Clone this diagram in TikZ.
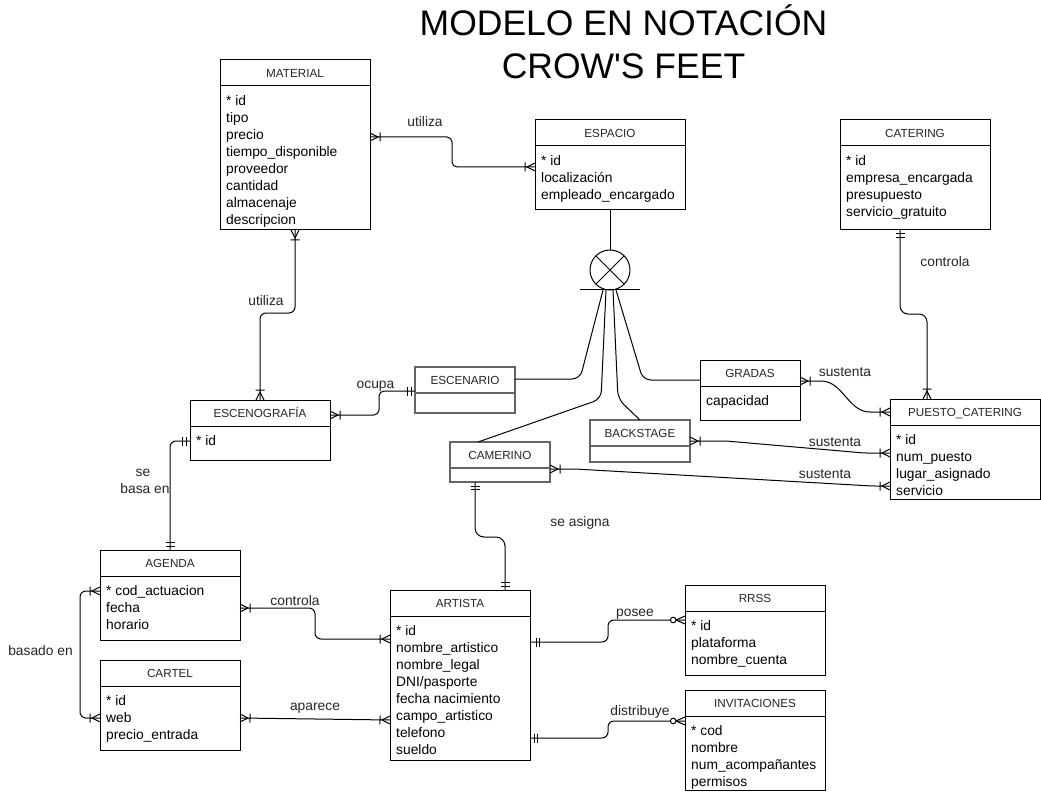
\documentclass[tikz,border=0pt]{standalone}
\usepackage{fontspec}
\setmainfont{Liberation Sans}
\usetikzlibrary{decorations.markings}

% markers, local frame: x along the connector, away from the entity
\newcommand\mkOM[1]{\draw[mk,xscale=#1] (0pt,4pt) -- (8pt,0pt) -- (0pt,-4pt) (10pt,4.5pt) -- (10pt,-4.5pt);}
\newcommand\mkMO[1]{\draw[mk,xscale=#1] (4pt,4.5pt) -- (4pt,-4.5pt) (7.5pt,4.5pt) -- (7.5pt,-4.5pt);}
\newcommand\mkMOf[1]{\draw[mk,xscale=#1] (6pt,4.5pt) -- (6pt,-4.5pt) (9.5pt,4.5pt) -- (9.5pt,-4.5pt);}
\newcommand\mkZM[1]{\draw[mk,xscale=#1] (0pt,4pt) -- (9pt,0pt) -- (0pt,-4pt); \filldraw[mk,fill=white,xscale=#1] (11.8pt,0pt) circle[radius=2.8pt];}

\tikzset{
  mk/.style={sharp corners, line width=1pt, solid, draw=black},
  ebox/.style={draw=black, fill=white, line width=1pt, inner sep=0pt, outer sep=0pt, anchor=north west},
  gbox/.style={ebox, draw=black!60, line width=1.2pt},
  etitle/.style={font=\fontsize{11.7}{14}\selectfont, text=black!85, inner sep=0pt, text height=8.4pt, text depth=0pt, anchor=center},
  eattr/.style={font=\fontsize{13.8}{16}\selectfont, inner sep=0pt, text height=9pt, text depth=0pt, anchor=west},
  lbl/.style={font=\fontsize{13.8}{16}\selectfont, inner sep=0pt, text height=9pt, text depth=0pt, anchor=center, text=black!85},
  ttl/.style={font=\fontsize{35.5}{43}\selectfont, inner sep=0pt, anchor=base},
  conn/.style={line width=1pt, draw=black, rounded corners=6pt},
  s om/.style={postaction={decorate,decoration={markings,mark=at position 0 with {\mkOM{1}}}}},
  e om/.style={postaction={decorate,decoration={markings,mark=at position 1 with {\mkOM{-1}}}}},
  s mo/.style={postaction={decorate,decoration={markings,mark=at position 0 with {\mkMO{1}}}}},
  e mo/.style={postaction={decorate,decoration={markings,mark=at position 1 with {\mkMO{-1}}}}},
  s mof/.style={postaction={decorate,decoration={markings,mark=at position 0 with {\mkMOf{1}}}}},
  e zm/.style={postaction={decorate,decoration={markings,mark=at position 1 with {\mkZM{-1}}}}},
}

% style, name, x, y, w, h, title, attributes
\newcommand\erbox[8]{%
  \node[#1, minimum width=#5pt, minimum height=#6pt] (#2) at (#3,#4) {};
  \draw[line width=1pt, draw=black] ([yshift=-26pt]#2.north west) -- ([yshift=-26pt]#2.north east);
  \node[etitle] (#2-t) at ([yshift=-13pt]#2.north) {#7};
  \foreach \eatt [count=\i from 0] in {#8} {\node[eattr] (#2-a\i) at ([shift={(6,41+17*\i)}]#2.north west) {\eatt};}
}
% name, x, y, w, h, title (no attributes, grey frame)
\newcommand\erboxg[6]{%
  \node[gbox, minimum width=#4pt, minimum height=#5pt] (#1) at (#2,#3) {};
  \draw[line width=1.2pt, draw=black!60] ([yshift=-26pt]#1.north west) -- ([yshift=-26pt]#1.north east);
  \node[etitle] (#1-t) at ([yshift=-13pt]#1.north) {#6};
}

\begin{document}
\begin{tikzpicture}[x=1pt, y=-1pt]
\fill[white] (0,0) rectangle (1041,794);
\useasboundingbox (0,0) rectangle (1041,794);

% title
\node[ttl] (title1) at (623.5,35.5) {MODELO EN NOTACIÓN};
\node[ttl] (title2) at (623.5,78.5) {CROW\textquotesingle S FEET};

% entities
\erbox{ebox}{material}{220}{60}{150}{170}{MATERIAL}{* id,tipo,precio,tiempo\_disponible,proveedor,cantidad,almacenaje,descripcion}
\erbox{ebox}{espacio}{535}{120}{150}{90}{ESPACIO}{* id,localización,empleado\_encargado}
\erbox{ebox}{catering}{840}{120}{150}{110}{CATERING}{* id,empresa\_encargada,presupuesto,servicio\_gratuito}
\erbox{ebox}{gradas}{700}{360}{100}{60}{GRADAS}{capacidad}
\erbox{ebox}{puesto}{890}{399}{150}{100}{PUESTO\_CATERING}{* id,num\_puesto,lugar\_asignado,servicio}
\erbox{ebox}{escenografia}{190}{400}{140}{60}{ESCENOGRAFÍA}{* id}
\erboxg{escenario}{415}{367}{100}{46}{ESCENARIO}
\erboxg{backstage}{590}{420}{100}{42}{BACKSTAGE}
\erboxg{camerino}{450}{442}{100}{40}{CAMERINO}
\erbox{ebox}{agenda}{100}{550}{140}{90}{AGENDA}{* cod\_actuacion,fecha,horario}
\erbox{ebox}{cartel}{100}{660}{140}{90}{CARTEL}{* id,web,precio\_entrada}
\erbox{ebox}{artista}{390}{590}{140}{170}{ARTISTA}{* id,nombre\_artistico,nombre\_legal,DNI/pasporte,fecha nacimiento,campo\_artistico,telefono,sueldo}
\erbox{ebox}{rrss}{685}{585}{140}{90}{RRSS}{* id,plataforma,nombre\_cuenta}
\erbox{ebox}{invitaciones}{685}{690}{140}{100}{INVITACIONES}{* cod,nombre,num\_acompañantes,permisos}

% exclusive-or symbol
\node[draw, circle, line width=1pt, minimum size=40pt, inner sep=0pt, outer sep=0pt, fill=white] (xor) at (610,270) {};
\draw[line width=1pt] (xor.45) -- (xor.225) (xor.135) -- (xor.315);
\draw[line width=1pt] (espacio.south) -- (xor.north);
\draw[line width=1pt] ([xshift=-30pt]xor.south) -- ([xshift=30pt]xor.south);
\draw[conn, rounded corners=8pt] ([xshift=-7pt]xor.south) -- (580,379) -- (escenario.east |- 0,379);
\draw[conn, rounded corners=8pt] ([xshift=-4pt]xor.south) -- (601,399) -- (camerino.north -| 478,0);
\draw[conn, rounded corners=8pt] ([xshift=3pt]xor.south) -- (618,399) -- (backstage.north -| 640,0);
\draw[conn, rounded corners=8pt] ([xshift=6pt]xor.south) -- (643,380) -- (gradas.west |- 0,380);

% relationships
\draw[conn, s om, e om, rounded corners=5pt] (material.east |- 0,137) -- (452,137) -- (452,167) -- (espacio.west |- 0,167);
\draw[conn, s om, e om] (material.south) -- (295,313) -- (260,313) -- (escenografia.north);
\draw[conn, s om, e mo, rounded corners=5pt] (escenografia.east |- 0,415) -- (379,415) -- (379,391) -- (escenario.west |- 0,391);
\draw[conn, s mo, e mo] (escenografia.west |- 0,441) -- (170,441) -- (agenda.north);
\draw[conn, s om, e om] (agenda.west |- 0,591) -- (80,591) -- (80,718) -- (cartel.west |- 0,718);
\draw[conn, s om, e om] (agenda.east |- 0,608) -- (315,608) -- (315,639) -- (artista.west |- 0,639);
\draw[conn, s om, e om] (cartel.east |- 0,718) -- (artista.west |- 0,720);
\draw[conn, s mo, e mo, rounded corners=9pt] (camerino.south -| 475,0) -- (475,537) -- (505,537) -- (artista.north -| 505,0);
\draw[conn, s mof, e zm] (artista.east |- 0,642) -- (608,642) -- (608,620) -- (rrss.west |- 0,620);
\draw[conn, s mo, e zm] (artista.east |- 0,738) -- (608,738) -- (608,721) -- (invitaciones.west |- 0,721);
\draw[conn, s mo, e om, rounded corners=8pt] (catering.south -| 900,0) -- (900,314) -- (927,314) -- (puesto.north -| 927,0);
\draw[conn, s om, e om, sharp corners] (gradas.east |- 0,381) -- (821,381) .. controls (843,381) and (848,412) .. (870,412) -- (puesto.west |- 0,412);
\draw[conn, s om, e om, rounded corners=3pt] (backstage.east |- 0,441) -- (726,441) -- (864,453) -- (puesto.west |- 0,453);
\draw[conn, s om, e om, rounded corners=3pt] (camerino.east |- 0,469) -- (575,469) -- (872,486) -- (puesto.west |- 0,486);

% relationship labels
\node[lbl] (l-utiliza1) at (425,121.7) {utiliza};
\node[lbl] (l-utiliza2) at (266,301) {utiliza};
\node[lbl] (l-ocupa) at (375.5,384) {ocupa};
\node[lbl] (l-se) at (143,472.3) {se};
\node[lbl] (l-basa) at (145,488.7) {basa en};
\node[lbl] (l-basado) at (40.5,651) {basado en};
\node[lbl] (l-controla1) at (295,601) {controla};
\node[lbl] (l-aparece) at (315,706) {aparece};
\node[lbl] (l-asigna) at (580,521.7) {se asigna};
\node[lbl] (l-posee) at (635,611.7) {posee};
\node[lbl] (l-distribuye) at (640,711) {distribuye};
\node[lbl] (l-controla2) at (945,261.7) {controla};
\node[lbl] (l-sustenta1) at (845,371.7) {sustenta};
\node[lbl] (l-sustenta2) at (835,441.7) {sustenta};
\node[lbl] (l-sustenta3) at (825,474.3) {sustenta};
\end{tikzpicture}
\end{document}
